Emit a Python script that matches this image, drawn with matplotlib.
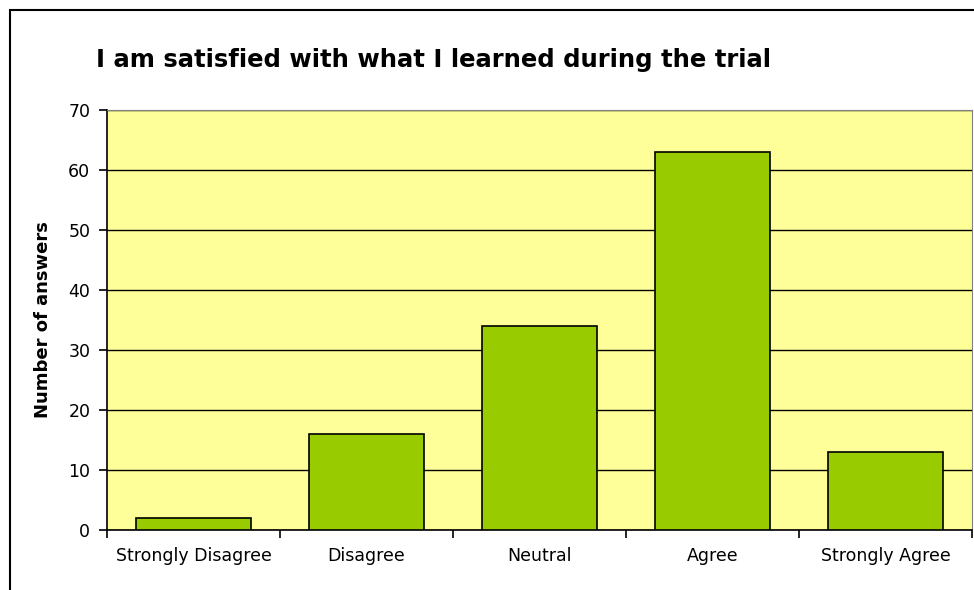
import matplotlib.pyplot as plt
from matplotlib.patches import Rectangle
import numpy as np

categories = ["Strongly Disagree", "Disagree", "Neutral", "Agree", "Strongly Agree"]
answers = [2, 16, 34, 63, 13]

fig = plt.figure(figsize=(9.74, 5.90), dpi=100)
fig.patch.set_facecolor("white")

# chart frame (cut off at right and bottom like the original)
frame = Rectangle((10 / 974, -0.05), 1.1, 1 - 10 / 590 + 0.05, transform=fig.transFigure,
                  fill=False, edgecolor="black", linewidth=1.5, zorder=0)
fig.patches.append(frame)

ax = fig.add_axes([107 / 974, 60 / 590, 865 / 974, 420 / 590])
ax.set_facecolor("#FFFF99")

x = np.arange(len(categories))
ax.bar(x, answers, width=0.665, color="#99CC00", edgecolor="black", linewidth=1.2, zorder=3)

ax.set_xlim(-0.5, len(categories) - 0.5)
ax.set_ylim(0, 70)
ax.set_yticks(range(0, 71, 10))
ax.yaxis.grid(True, color="black", linewidth=1.0, zorder=1)
ax.set_axisbelow(True)

ax.set_xticks(x)
ax.set_xticklabels(categories, fontsize=12.5)
ax.set_xticks(np.arange(-0.5, len(categories)), minor=True)
ax.tick_params(axis="x", which="major", length=0, pad=12)
ax.tick_params(axis="x", which="minor", length=6, width=1.2, color="black")
ax.tick_params(axis="y", length=6, width=1.2, labelsize=12.5, pad=6)

ax.spines["left"].set_color("black")
ax.spines["left"].set_linewidth(1.2)
ax.spines["bottom"].set_color("black")
ax.spines["bottom"].set_linewidth(1.2)
ax.spines["top"].set_color("#808080")
ax.spines["right"].set_color("#808080")

ax.set_ylabel("Number of answers", fontsize=13, fontweight="bold", labelpad=12)
fig.text(433 / 974, 1 - 60 / 590, "I am satisfied with what I learned during the trial",
         fontsize=17.5, fontweight="bold", ha="center", va="center")

fig.savefig("out.png", dpi=100)
